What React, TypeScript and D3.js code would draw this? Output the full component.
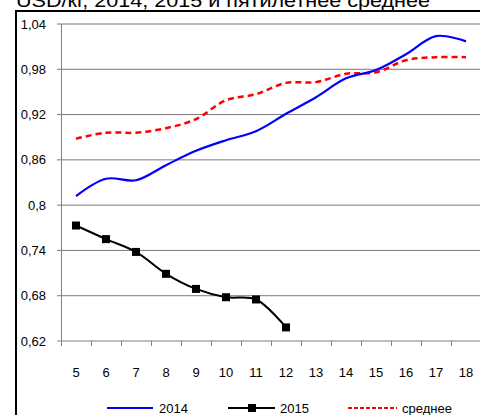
import React from 'react'
import * as d3 from 'd3'

const weeks = [5, 6, 7, 8, 9, 10, 11, 12, 13, 14, 15, 16, 17, 18]
const yTicks = [0.62, 0.68, 0.74, 0.8, 0.86, 0.92, 0.98, 1.04]
const s2014 = [0.812, 0.835, 0.833, 0.853, 0.872, 0.886, 0.898, 0.921, 0.943, 0.968, 0.979, 1.0, 1.024, 1.017]
const s2015 = [0.773, 0.755, 0.738, 0.709, 0.689, 0.678, 0.675, 0.638]
const sAvg = [0.888, 0.896, 0.896, 0.902, 0.914, 0.939, 0.947, 0.962, 0.963, 0.974, 0.976, 0.992, 0.996, 0.996]

const W = 480
const H = 415
const font = '"Liberation Sans", Arial, sans-serif'

export default function App() {
    const x = d3.scaleBand<number>().domain(weeks).range([61, 481])
    const cx = (w: number) => (x(w) as number) + x.bandwidth() / 2
    const y = d3.scaleLinear().domain([0.62, 1.04]).range([341, 24])

    const line = d3.line<[number, number]>()
        .x(d => cx(d[0]))
        .y(d => y(d[1]))
        .curve(d3.curveCatmullRom.alpha(0.5))

    const pts = (vals: number[]) => vals.map((v, i) => [weeks[i], v] as [number, number])

    return (
        <svg width={W} height={H} style={{ position: 'absolute', left: 0, top: 0 }}>
            <rect width={W} height={H} fill="#fff" />
            <text x={16} y={7} fontFamily={font} fontSize={19} textLength={414} lengthAdjust="spacingAndGlyphs">
                USD/кг, 2014, 2015 и пятилетнее среднее
            </text>
            <rect x={16} y={11} width={480} height={420} fill="none" stroke="#000" strokeWidth={2} />

            {/* grid */}
            {yTicks.map(t => (
                <g key={t}>
                    <line x1={57} x2={481} y1={y(t)} y2={y(t)} stroke={t === 0.62 ? '#808080' : '#7a7a7a'} strokeWidth={1} />
                    <text x={46} y={y(t)} dy="0.35em" textAnchor="end" fontFamily={font} fontSize={13}>
                        {String(t).replace('.', ',')}
                    </text>
                </g>
            ))}
            <line x1={61.5} x2={61.5} y1={24} y2={341} stroke="#808080" />
            {d3.range(weeks.length + 1).map(i => (
                <line key={i} x1={61.5 + i * x.step()} x2={61.5 + i * x.step()} y1={341} y2={346} stroke="#808080" />
            ))}
            {weeks.map(w => (
                <text key={w} x={cx(w)} y={372} dy="0.35em" textAnchor="middle" fontFamily={font} fontSize={13}>{w}</text>
            ))}

            <path d={line(pts(sAvg)) || ''} fill="none" stroke="#ff0000" strokeWidth={2.5} strokeDasharray="6,4" />
            <path d={line(pts(s2014)) || ''} fill="none" stroke="#0000ff" strokeWidth={2.2} />
            <path d={line(pts(s2015)) || ''} fill="none" stroke="#000" strokeWidth={2} />
            {pts(s2015).map(d => (
                <rect key={d[0]} x={cx(d[0]) - 4} y={y(d[1]) - 4} width={8} height={8} fill="#000" />
            ))}

            {/* legend */}
            <g fontFamily={font} fontSize={13}>
                <line x1={107} x2={153} y1={408} y2={408} stroke="#0000ff" strokeWidth={2} />
                <text x={159} y={408} dy="0.35em">2014</text>
                <line x1={228} x2={275} y1={408} y2={408} stroke="#000" strokeWidth={2} />
                <rect x={248} y={404} width={8} height={8} fill="#000" />
                <text x={280} y={408} dy="0.35em">2015</text>
                <line x1={348} x2={397} y1={408} y2={408} stroke="#ff0000" strokeWidth={2} strokeDasharray="4,2" />
                <text x={402} y={408} dy="0.35em">среднее</text>
            </g>
        </svg>
    )
}
